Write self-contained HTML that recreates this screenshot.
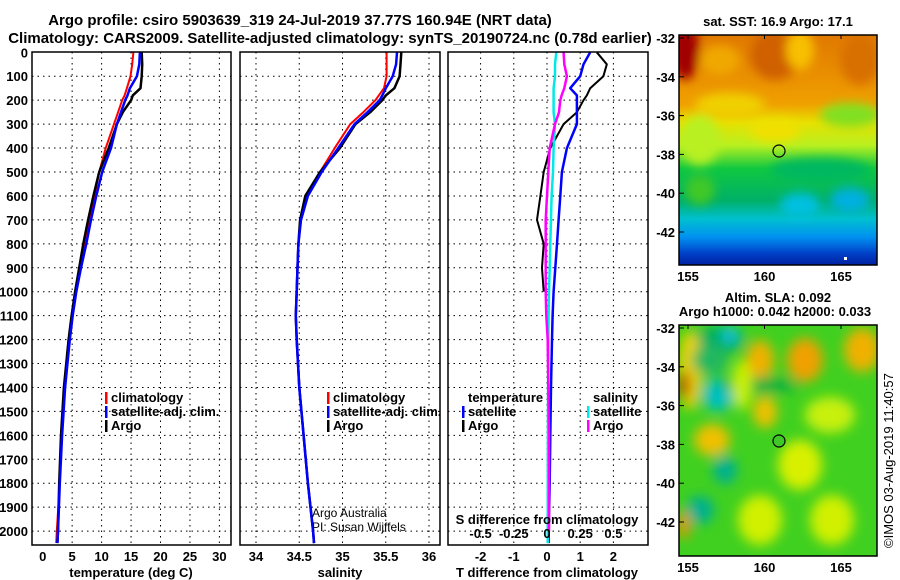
<!DOCTYPE html>
<html><head><meta charset="utf-8"><style>
body{margin:0;background:#fff;}
svg{display:block;font-family:"Liberation Sans",sans-serif;font-weight:bold;}
</style></head><body>
<svg id="chart" width="900" height="580" viewBox="0 0 900 580" xmlns="http://www.w3.org/2000/svg">
<defs>
<filter id="blur1" x="-20%" y="-20%" width="140%" height="140%"><feGaussianBlur stdDeviation="5"/></filter>
<filter id="blur2" x="-20%" y="-20%" width="140%" height="140%"><feGaussianBlur stdDeviation="6"/></filter>
<clipPath id="clipm1"><rect x="679" y="35" width="198" height="230"/></clipPath>
<clipPath id="clipm2"><rect x="679" y="325" width="198" height="231"/></clipPath>
<linearGradient id="sstg" x1="0" y1="0" x2="0" y2="1">
<stop offset="0" stop-color="#e07800"/><stop offset="0.3" stop-color="#f0a000"/><stop offset="0.38" stop-color="#e8e000"/>
<stop offset="0.48" stop-color="#b8f020"/><stop offset="0.58" stop-color="#10c840"/><stop offset="0.72" stop-color="#00b068"/>
<stop offset="0.8" stop-color="#00c0d0"/><stop offset="0.88" stop-color="#0090f0"/><stop offset="0.95" stop-color="#0040c8"/><stop offset="1" stop-color="#0020a0"/>
</linearGradient>
</defs>
<text x="300" y="25" font-size="15" text-anchor="middle">Argo profile: csiro 5903639_319 24-Jul-2019 37.77S 160.94E (NRT data)</text>
<text x="330" y="43" font-size="15" text-anchor="middle">Climatology: CARS2009. Satellite-adjusted climatology: synTS_20190724.nc (0.78d earlier)</text>
<g id="g"></g>
<g clip-path="url(#clipm1)">
<rect x="679" y="35" width="198" height="230" fill="url(#sstg)"/>
<g filter="url(#blur1)">
<ellipse cx="685" cy="50" rx="14" ry="30" fill="#a00000"/>
<ellipse cx="720" cy="60" rx="20" ry="15" fill="#f0a800"/>
<ellipse cx="775" cy="55" rx="25" ry="25" fill="#d06000"/>
<ellipse cx="800" cy="50" rx="14" ry="20" fill="#f8c000"/>
<ellipse cx="860" cy="60" rx="20" ry="25" fill="#d87000"/>
<ellipse cx="730" cy="105" rx="35" ry="12" fill="#f0d000"/>
<ellipse cx="775" cy="130" rx="25" ry="12" fill="#f0e000"/>
<ellipse cx="700" cy="140" rx="20" ry="25" fill="#b8f020"/>
<ellipse cx="850" cy="115" rx="30" ry="12" fill="#80e020"/>
<ellipse cx="820" cy="170" rx="50" ry="12" fill="#00b860"/>
<ellipse cx="800" cy="205" rx="20" ry="12" fill="#00c0e0"/>
<ellipse cx="850" cy="200" rx="20" ry="12" fill="#00b0e0"/>
<ellipse cx="700" cy="190" rx="15" ry="15" fill="#40c828"/>
</g>
<rect x="844" y="257" width="3" height="3" fill="#fff"/>
</g>
<rect x="679" y="35" width="198" height="230" fill="none" stroke="#000" stroke-width="1.5"/>
<circle cx="779" cy="151" r="6" fill="none" stroke="#000" stroke-width="1.2"/>
<text x="778" y="26" font-size="13" text-anchor="middle">sat. SST: 16.9 Argo: 17.1</text>
<g clip-path="url(#clipm2)">
<rect x="679" y="325" width="198" height="231" fill="#40d020"/>
<g filter="url(#blur2)">
<ellipse cx="720" cy="340" rx="25" ry="14" fill="#00b060"/>
<ellipse cx="730" cy="335" rx="8" ry="8" fill="#10c0e0"/>
<ellipse cx="690" cy="370" rx="12" ry="40" fill="#e8d000"/>
<ellipse cx="684" cy="385" rx="6" ry="14" fill="#c05000"/>
<ellipse cx="760" cy="360" rx="14" ry="20" fill="#f0b000"/>
<ellipse cx="805" cy="360" rx="18" ry="22" fill="#f0a000"/>
<ellipse cx="862" cy="350" rx="18" ry="22" fill="#f0b000"/>
<ellipse cx="765" cy="412" rx="12" ry="16" fill="#f0c000"/>
<ellipse cx="712" cy="440" rx="18" ry="16" fill="#f0c000"/>
<ellipse cx="718" cy="395" rx="16" ry="16" fill="#00c0c0"/>
<ellipse cx="760" cy="385" rx="40" ry="8" fill="#00b040"/>
<ellipse cx="725" cy="470" rx="12" ry="14" fill="#00b090"/>
<ellipse cx="700" cy="510" rx="14" ry="14" fill="#00b090"/>
<ellipse cx="800" cy="465" rx="22" ry="25" fill="#d8f000"/>
<ellipse cx="830" cy="415" rx="25" ry="18" fill="#c8f010"/>
<ellipse cx="760" cy="520" rx="22" ry="25" fill="#d0f000"/>
<ellipse cx="832" cy="520" rx="22" ry="25" fill="#d0f000"/>
<ellipse cx="684" cy="525" rx="6" ry="14" fill="#f09000"/>
<ellipse cx="742" cy="385" rx="10" ry="25" fill="#c8f000"/>
<ellipse cx="710" cy="360" rx="18" ry="15" fill="#20b860"/>
</g>
</g>
<rect x="679" y="325" width="198" height="231" fill="none" stroke="#000" stroke-width="1.5"/>
<circle cx="779" cy="441" r="6" fill="#40c828" stroke="#000" stroke-width="1.2"/>
<text x="778" y="302" font-size="13" text-anchor="middle">Altim. SLA: 0.092</text>
<text x="775" y="316" font-size="13" text-anchor="middle">Argo h1000: 0.042 h2000: 0.033</text>
<text transform="translate(893,548) rotate(-90)" font-size="13" font-weight="normal">©IMOS 03-Aug-2019 11:40:57</text>
<text x="312" y="517" font-size="12" font-weight="normal">Argo Australia</text>
<text x="312" y="531" font-size="12" font-weight="normal">PI: Susan Wijffels</text>
</svg>
<script>
const NS="http://www.w3.org/2000/svg";
const depths=[0,50,100,150,180,200,250,300,400,500,600,700,800,900,1000,1100,1200,1400,1600,1800,2000,2050];
const tempArgo=[16.8,16.9,16.8,16.6,15.3,15.0,13.6,12.6,11.2,9.6,8.6,7.7,6.9,6.2,5.5,4.9,4.4,3.6,3.1,2.8,2.6,2.5];
const tempClim=[15.4,15.2,14.9,14.3,13.9,13.5,12.8,12.1,10.7,9.6,8.8,8.0,7.2,6.4,5.6,5.0,4.5,3.7,3.2,2.9,2.4,2.3];
const tempSat=[16.5,16.4,16.0,14.8,14.4,14.0,13.3,12.6,11.6,10.1,9.1,8.2,7.4,6.5,5.7,5.1,4.6,3.8,3.3,2.9,2.6,2.5];
const salArgo=[35.68,35.67,35.66,35.60,35.50,35.46,35.32,35.15,34.97,34.74,34.57,34.51,34.49,34.48,34.47,34.46,34.47,34.50,34.55,34.60,34.66,34.67];
const salClim=[35.51,35.51,35.51,35.48,35.42,35.38,35.24,35.09,34.91,34.74,34.59,34.52,34.49,34.48,34.47,34.46,34.47,34.50,34.55,34.60,34.66,34.67];
const salSat=[35.63,35.62,35.58,35.50,35.46,35.43,35.29,35.14,34.95,34.76,34.60,34.52,34.49,34.48,34.47,34.46,34.47,34.50,34.55,34.60,34.66,34.67];
const tDiffSat=[1.3,1.1,1.0,0.7,0.9,0.9,0.9,0.9,0.6,0.45,0.4,0.35,0.3,0.25,0.2,0.17,0.15,0.12,0.1,0.08,0.05,0.05];
const tDiffArgo=[1.5,1.8,1.7,1.3,1.2,1.1,0.9,0.5,0.1,-0.1,-0.2,-0.3,-0.1,-0.15,-0.1,null,null,null,null,null,null,null];
const sDiffSat=[0.07,0.06,0.06,0.05,0.05,0.05,0.05,0.06,0.05,0.045,0.035,0.03,0.025,0.02,0.015,0.012,0.01,0.008,0.007,0.006,0.005,0.005];
const sDiffArgo=[0.125,0.13,0.15,0.13,0.11,0.1,0.09,0.06,0.02,0.01,0.0,-0.01,-0.01,-0.01,-0.01,-0.005,0.005,0.01,0.015,0.015,0.015,null];
const depthTicks=[0,100,200,300,400,500,600,700,800,900,1000,1100,1200,1300,1400,1500,1600,1700,1800,1900,2000];
const tempTicks=[0,5,10,15,20,25,30];
const salTicks=[34,34.5,35,35.5,36];
const tDiffTicks=[-2,-1,0,1,2];
const sDiffTicks=[-0.5,-0.25,0,0.25,0.5];
const sDiffLabels=["-0.5","-0.25","0","0.25","0.5"];

const yD=d=>52.3+d*0.2394;
const xT=t=>42.7+t*5.89;
const xS=s=>256+(s-34)*86.5;
const xTD=v=>547+v*33.2;
const xSD=v=>547+v*132.8;
const gRoot=document.getElementById('g');
function el(tag,attrs,parent){const e=document.createElementNS(NS,tag);for(const k in attrs)e.setAttribute(k,attrs[k]);(parent||gRoot).appendChild(e);return e;}
function txt(x,y,s,size,anchor,parent){const t=el('text',{x:x,y:y,'font-size':size,'text-anchor':anchor||'middle'},parent);t.textContent=s;return t;}
const panels=[{x0:32,x1:231,name:'temperature-panel'},{x0:240,x1:440,name:'salinity-panel'},{x0:448,x1:648,name:'difference-panel'}];
const pTop=52,pBot=545;
panels.forEach(p=>{
  const pg=el('g',{});
  
  
  p.g=pg;
  depthTicks.forEach(d=>{if(d>0){const l=el('line',{x1:p.x0,x2:p.x1,y1:yD(d),y2:yD(d),stroke:'#000','stroke-dasharray':'1.5,4','stroke-width':1},pg);
    
    }});
});
function vgrid(p,xs){xs.forEach(x=>{const l=el('line',{x1:x,x2:x,y1:pTop,y2:pBot,stroke:'#000','stroke-dasharray':'1.5,4','stroke-width':1},p.g);
  
  });}
vgrid(panels[0],tempTicks.slice(1).map(xT));
vgrid(panels[1],salTicks.map(xS));
vgrid(panels[2],tDiffTicks.map(xTD));
depthTicks.forEach(d=>{const t=txt(28,yD(d)+5,String(d),13,'end');
  
  });
tempTicks.forEach(v=>{const t=txt(xT(v),561,String(v),13);
  
  });
salTicks.forEach(v=>{const t=txt(xS(v),561,String(v),13);
  
  });
tDiffTicks.forEach(v=>{const t=txt(xTD(v),561,String(v),13);
  
  });
sDiffTicks.forEach((v,i)=>{const t=txt(xSD(v),538,sDiffLabels[i],13);
  
  });
const t1=txt(131,577,'temperature (deg C)',13);


const t2=txt(340,577,'salinity',13);


const t3=txt(547,577,'T difference from climatology',13);


const t4=txt(547,524,'S difference from climatology',13);


function line(vals,xf,color,w,name,parent){let pts=[];for(let i=0;i<depths.length;i++){if(vals[i]===null)continue;pts.push(xf(vals[i]).toFixed(1)+','+yD(depths[i]).toFixed(1));}
 const pl=el('polyline',{points:pts.join(' '),fill:'none',stroke:color,'stroke-width':w,'stroke-linejoin':'round'},parent);
 
 }
line(tempClim,xT,'#ff0000',2,'temperature-climatology-line',panels[0].g);
line(tempArgo,xT,'#000',2.5,'temperature-argo-line',panels[0].g);
line(tempSat,xT,'#0000ff',2.5,'temperature-satellite-line',panels[0].g);
line(salClim,xS,'#ff0000',2,'salinity-climatology-line',panels[1].g);
line(salArgo,xS,'#000',2.5,'salinity-argo-line',panels[1].g);
line(salSat,xS,'#0000ff',2.5,'salinity-satellite-line',panels[1].g);
line(tDiffArgo,xTD,'#000',2,'tdiff-argo-line',panels[2].g);
line(tDiffSat,xTD,'#0000ff',2.5,'tdiff-satellite-line',panels[2].g);
line(sDiffSat,xSD,'#00e8e8',2.5,'sdiff-satellite-line',panels[2].g);
line(sDiffArgo,xSD,'#ff00ff',2.5,'sdiff-argo-line',panels[2].g);
panels.forEach(p=>{const r=el('rect',{x:p.x0,y:pTop,width:p.x1-p.x0,height:pBot-pTop,fill:'none',stroke:'#000','stroke-width':1.5});
  
  });
function legend(x,y,items,name){const lg=el('g',{});
 
 
 items.forEach((it,i)=>{const yy=y+i*14;if(it[1]){el('rect',{x:x,y:yy-10,width:2.5,height:12,fill:it[1]},lg);}txt(x+6,yy,it[0],13,'start',lg);});}
legend(105,402,[['climatology','#ff0000'],['satellite-adj. clim.','#0000ff'],['Argo','#000']],'temperature-legend');
legend(327,402,[['climatology','#ff0000'],['satellite-adj. clim.','#0000ff'],['Argo','#000']],'salinity-legend');
legend(462,402,[['temperature',null],['satellite','#0000ff'],['Argo','#000']],'tdiff-legend');
legend(587,402,[['salinity',null],['satellite','#00e8e8'],['Argo','#ff00ff']],'sdiff-legend');
const svgRoot=document.getElementById('chart');
const latTicks=[-32,-34,-36,-38,-40,-42];
const lonTicks=[155,160,165];
function mapAxes(y0,y1,latY){
 latTicks.forEach(l=>{const y=latY(l);const t=txt(675,y+5,String(l),13,'end',svgRoot);
   
   
   el('line',{x1:679,x2:684,y1:y,y2:y,stroke:'#000'},svgRoot);});
 lonTicks.forEach(l=>{const x=688+(l-155)*15.3;const t=txt(x,y1+16,String(l),13,'middle',svgRoot);
   
   
   el('line',{x1:x,x2:x,y1:y0,y2:y0+4,stroke:'#000'},svgRoot);});
}
mapAxes(35,265,l=>38+(-32-l)*19.4);
mapAxes(325,556,l=>328+(-32-l)*19.4);
</script>
</body></html>
